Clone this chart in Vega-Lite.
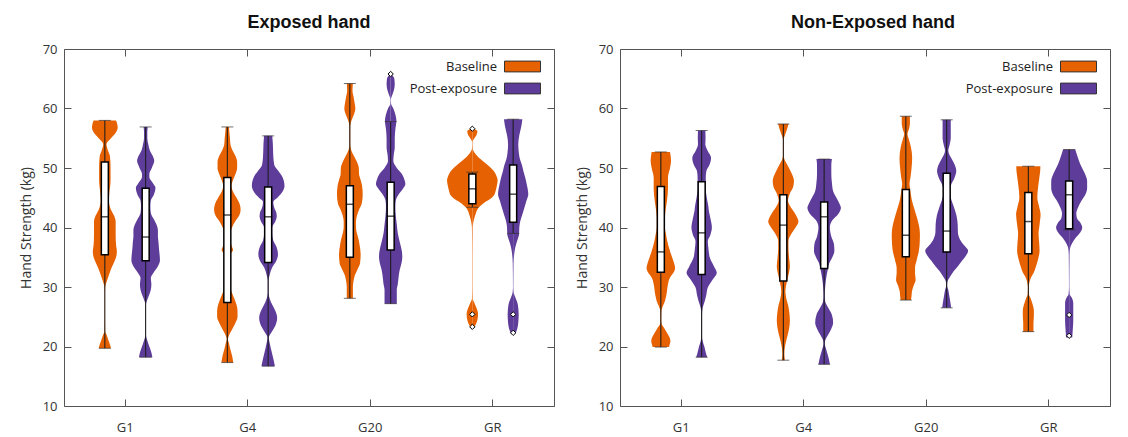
{
"$schema":"https://vega.github.io/schema/vega-lite/v6.json",
"padding":{"left":18,"top":13,"right":0,"bottom":0},
"spacing":19,
"config":{
 "view":{"stroke":"#555","strokeWidth":1},
 "font":"Open Sans",
 "axis":{"labelFont":"Open Sans","labelFontSize":13,"labelColor":"#333","tickColor":"#555","tickSize":-7,"tickWidth":1,"domain":false,"grid":false,"titleFont":"Open Sans","titleFontSize":14,"titleFontWeight":"normal","titleColor":"#333"},
 "title":{"font":"Liberation Sans","fontSize":18,"fontWeight":"bold","color":"#111","anchor":"middle","offset":11},
 "legend":{"orient":"top-right","offset":11,"padding":0,"labelFont":"Open Sans","labelFontSize":13,"labelColor":"#222","labelAlign":"right","labelOffset":-32,"symbolType":"M-3,-0.9H3V0.9H-3Z","symbolSize":144,"rowPadding":7,"symbolStrokeColor":"#333","symbolStrokeWidth":1}
},
"datasets":{
"viol":[
{"panel":"E","group":"G1","series":"Baseline","kg":58,"dens":0.55},{"panel":"E","group":"G1","series":"Baseline","kg":57.5,"dens":0.6},{"panel":"E","group":"G1","series":"Baseline","kg":56.8,"dens":0.63},{"panel":"E","group":"G1","series":"Baseline","kg":56,"dens":0.55},{"panel":"E","group":"G1","series":"Baseline","kg":55,"dens":0.3},{"panel":"E","group":"G1","series":"Baseline","kg":54,"dens":0.08},{"panel":"E","group":"G1","series":"Baseline","kg":53,"dens":0.15},{"panel":"E","group":"G1","series":"Baseline","kg":52,"dens":0.25},{"panel":"E","group":"G1","series":"Baseline","kg":50,"dens":0.28},{"panel":"E","group":"G1","series":"Baseline","kg":48,"dens":0.28},{"panel":"E","group":"G1","series":"Baseline","kg":46,"dens":0.23},{"panel":"E","group":"G1","series":"Baseline","kg":44.5,"dens":0.2},{"panel":"E","group":"G1","series":"Baseline","kg":43,"dens":0.3},{"panel":"E","group":"G1","series":"Baseline","kg":42,"dens":0.45},{"panel":"E","group":"G1","series":"Baseline","kg":41,"dens":0.53},{"panel":"E","group":"G1","series":"Baseline","kg":39,"dens":0.53},{"panel":"E","group":"G1","series":"Baseline","kg":37,"dens":0.55},{"panel":"E","group":"G1","series":"Baseline","kg":36,"dens":0.59},{"panel":"E","group":"G1","series":"Baseline","kg":35,"dens":0.55},{"panel":"E","group":"G1","series":"Baseline","kg":34,"dens":0.43},{"panel":"E","group":"G1","series":"Baseline","kg":33,"dens":0.3},{"panel":"E","group":"G1","series":"Baseline","kg":32,"dens":0.2},{"panel":"E","group":"G1","series":"Baseline","kg":31,"dens":0.1},{"panel":"E","group":"G1","series":"Baseline","kg":30,"dens":0.02},{"panel":"E","group":"G1","series":"Baseline","kg":29,"dens":0.01},{"panel":"E","group":"G1","series":"Baseline","kg":25,"dens":0.01},{"panel":"E","group":"G1","series":"Baseline","kg":22.5,"dens":0.02},{"panel":"E","group":"G1","series":"Baseline","kg":22,"dens":0.08},{"panel":"E","group":"G1","series":"Baseline","kg":21,"dens":0.18},{"panel":"E","group":"G1","series":"Baseline","kg":20,"dens":0.28},{"panel":"E","group":"G1","series":"Baseline","kg":19.7,"dens":0.3},
{"panel":"E","group":"G1","series":"Post-exposure","kg":56.9,"dens":0.1},{"panel":"E","group":"G1","series":"Post-exposure","kg":56,"dens":0.08},{"panel":"E","group":"G1","series":"Post-exposure","kg":55,"dens":0.08},{"panel":"E","group":"G1","series":"Post-exposure","kg":54,"dens":0.13},{"panel":"E","group":"G1","series":"Post-exposure","kg":53,"dens":0.2},{"panel":"E","group":"G1","series":"Post-exposure","kg":52,"dens":0.35},{"panel":"E","group":"G1","series":"Post-exposure","kg":51.2,"dens":0.42},{"panel":"E","group":"G1","series":"Post-exposure","kg":50,"dens":0.3},{"panel":"E","group":"G1","series":"Post-exposure","kg":49,"dens":0.18},{"panel":"E","group":"G1","series":"Post-exposure","kg":48.5,"dens":0.18},{"panel":"E","group":"G1","series":"Post-exposure","kg":47.5,"dens":0.35},{"panel":"E","group":"G1","series":"Post-exposure","kg":46.7,"dens":0.48},{"panel":"E","group":"G1","series":"Post-exposure","kg":45.5,"dens":0.4},{"panel":"E","group":"G1","series":"Post-exposure","kg":44.5,"dens":0.25},{"panel":"E","group":"G1","series":"Post-exposure","kg":43.5,"dens":0.23},{"panel":"E","group":"G1","series":"Post-exposure","kg":42.5,"dens":0.25},{"panel":"E","group":"G1","series":"Post-exposure","kg":41.5,"dens":0.38},{"panel":"E","group":"G1","series":"Post-exposure","kg":40.5,"dens":0.53},{"panel":"E","group":"G1","series":"Post-exposure","kg":39.5,"dens":0.6},{"panel":"E","group":"G1","series":"Post-exposure","kg":38.5,"dens":0.6},{"panel":"E","group":"G1","series":"Post-exposure","kg":37.5,"dens":0.63},{"panel":"E","group":"G1","series":"Post-exposure","kg":36.5,"dens":0.65},{"panel":"E","group":"G1","series":"Post-exposure","kg":35.5,"dens":0.68},{"panel":"E","group":"G1","series":"Post-exposure","kg":34.5,"dens":0.7},{"panel":"E","group":"G1","series":"Post-exposure","kg":33.5,"dens":0.6},{"panel":"E","group":"G1","series":"Post-exposure","kg":32.5,"dens":0.4},{"panel":"E","group":"G1","series":"Post-exposure","kg":31.5,"dens":0.25},{"panel":"E","group":"G1","series":"Post-exposure","kg":30.5,"dens":0.28},{"panel":"E","group":"G1","series":"Post-exposure","kg":29.5,"dens":0.25},{"panel":"E","group":"G1","series":"Post-exposure","kg":28.5,"dens":0.15},{"panel":"E","group":"G1","series":"Post-exposure","kg":27.5,"dens":0.04},{"panel":"E","group":"G1","series":"Post-exposure","kg":27,"dens":0.01},{"panel":"E","group":"G1","series":"Post-exposure","kg":22,"dens":0.01},{"panel":"E","group":"G1","series":"Post-exposure","kg":21,"dens":0.08},{"panel":"E","group":"G1","series":"Post-exposure","kg":20,"dens":0.18},{"panel":"E","group":"G1","series":"Post-exposure","kg":19,"dens":0.28},{"panel":"E","group":"G1","series":"Post-exposure","kg":18.2,"dens":0.33},
{"panel":"E","group":"G4","series":"Baseline","kg":56.9,"dens":0.08},{"panel":"E","group":"G4","series":"Baseline","kg":56,"dens":0.1},{"panel":"E","group":"G4","series":"Baseline","kg":55,"dens":0.13},{"panel":"E","group":"G4","series":"Baseline","kg":54,"dens":0.15},{"panel":"E","group":"G4","series":"Baseline","kg":53,"dens":0.25},{"panel":"E","group":"G4","series":"Baseline","kg":52,"dens":0.4},{"panel":"E","group":"G4","series":"Baseline","kg":51,"dens":0.48},{"panel":"E","group":"G4","series":"Baseline","kg":50,"dens":0.48},{"panel":"E","group":"G4","series":"Baseline","kg":49,"dens":0.4},{"panel":"E","group":"G4","series":"Baseline","kg":48,"dens":0.28},{"panel":"E","group":"G4","series":"Baseline","kg":47,"dens":0.2},{"panel":"E","group":"G4","series":"Baseline","kg":46,"dens":0.28},{"panel":"E","group":"G4","series":"Baseline","kg":45,"dens":0.45},{"panel":"E","group":"G4","series":"Baseline","kg":44,"dens":0.6},{"panel":"E","group":"G4","series":"Baseline","kg":43,"dens":0.65},{"panel":"E","group":"G4","series":"Baseline","kg":42,"dens":0.58},{"panel":"E","group":"G4","series":"Baseline","kg":41,"dens":0.38},{"panel":"E","group":"G4","series":"Baseline","kg":40,"dens":0.23},{"panel":"E","group":"G4","series":"Baseline","kg":39,"dens":0.15},{"panel":"E","group":"G4","series":"Baseline","kg":38,"dens":0.15},{"panel":"E","group":"G4","series":"Baseline","kg":37,"dens":0.2},{"panel":"E","group":"G4","series":"Baseline","kg":36.2,"dens":0.28},{"panel":"E","group":"G4","series":"Baseline","kg":35.5,"dens":0.15},{"panel":"E","group":"G4","series":"Baseline","kg":34.5,"dens":0.08},{"panel":"E","group":"G4","series":"Baseline","kg":33,"dens":0.06},{"panel":"E","group":"G4","series":"Baseline","kg":31,"dens":0.08},{"panel":"E","group":"G4","series":"Baseline","kg":30,"dens":0.13},{"panel":"E","group":"G4","series":"Baseline","kg":29,"dens":0.23},{"panel":"E","group":"G4","series":"Baseline","kg":28,"dens":0.35},{"panel":"E","group":"G4","series":"Baseline","kg":27,"dens":0.45},{"panel":"E","group":"G4","series":"Baseline","kg":26,"dens":0.5},{"panel":"E","group":"G4","series":"Baseline","kg":25,"dens":0.5},{"panel":"E","group":"G4","series":"Baseline","kg":24,"dens":0.4},{"panel":"E","group":"G4","series":"Baseline","kg":23,"dens":0.25},{"panel":"E","group":"G4","series":"Baseline","kg":22,"dens":0.1},{"panel":"E","group":"G4","series":"Baseline","kg":21.2,"dens":0.03},{"panel":"E","group":"G4","series":"Baseline","kg":20.5,"dens":0.08},{"panel":"E","group":"G4","series":"Baseline","kg":19.5,"dens":0.15},{"panel":"E","group":"G4","series":"Baseline","kg":18.5,"dens":0.23},{"panel":"E","group":"G4","series":"Baseline","kg":17.3,"dens":0.29},
{"panel":"E","group":"G4","series":"Post-exposure","kg":55.4,"dens":0.2},{"panel":"E","group":"G4","series":"Post-exposure","kg":54,"dens":0.23},{"panel":"E","group":"G4","series":"Post-exposure","kg":52,"dens":0.25},{"panel":"E","group":"G4","series":"Post-exposure","kg":50.5,"dens":0.3},{"panel":"E","group":"G4","series":"Post-exposure","kg":49.5,"dens":0.5},{"panel":"E","group":"G4","series":"Post-exposure","kg":48.5,"dens":0.7},{"panel":"E","group":"G4","series":"Post-exposure","kg":47,"dens":0.8},{"panel":"E","group":"G4","series":"Post-exposure","kg":46,"dens":0.7},{"panel":"E","group":"G4","series":"Post-exposure","kg":45,"dens":0.45},{"panel":"E","group":"G4","series":"Post-exposure","kg":44.3,"dens":0.25},{"panel":"E","group":"G4","series":"Post-exposure","kg":43.3,"dens":0.3},{"panel":"E","group":"G4","series":"Post-exposure","kg":42.5,"dens":0.4},{"panel":"E","group":"G4","series":"Post-exposure","kg":41.9,"dens":0.42},{"panel":"E","group":"G4","series":"Post-exposure","kg":41,"dens":0.35},{"panel":"E","group":"G4","series":"Post-exposure","kg":40,"dens":0.2},{"panel":"E","group":"G4","series":"Post-exposure","kg":39,"dens":0.2},{"panel":"E","group":"G4","series":"Post-exposure","kg":37.8,"dens":0.25},{"panel":"E","group":"G4","series":"Post-exposure","kg":36.8,"dens":0.4},{"panel":"E","group":"G4","series":"Post-exposure","kg":35.5,"dens":0.48},{"panel":"E","group":"G4","series":"Post-exposure","kg":34.4,"dens":0.4},{"panel":"E","group":"G4","series":"Post-exposure","kg":33.3,"dens":0.2},{"panel":"E","group":"G4","series":"Post-exposure","kg":32.1,"dens":0.08},{"panel":"E","group":"G4","series":"Post-exposure","kg":31,"dens":0.02},{"panel":"E","group":"G4","series":"Post-exposure","kg":29,"dens":0.02},{"panel":"E","group":"G4","series":"Post-exposure","kg":28,"dens":0.08},{"panel":"E","group":"G4","series":"Post-exposure","kg":27,"dens":0.2},{"panel":"E","group":"G4","series":"Post-exposure","kg":26,"dens":0.35},{"panel":"E","group":"G4","series":"Post-exposure","kg":24.8,"dens":0.44},{"panel":"E","group":"G4","series":"Post-exposure","kg":23.5,"dens":0.35},{"panel":"E","group":"G4","series":"Post-exposure","kg":22.5,"dens":0.18},{"panel":"E","group":"G4","series":"Post-exposure","kg":21.5,"dens":0.03},{"panel":"E","group":"G4","series":"Post-exposure","kg":20.5,"dens":0.08},{"panel":"E","group":"G4","series":"Post-exposure","kg":19,"dens":0.18},{"panel":"E","group":"G4","series":"Post-exposure","kg":18,"dens":0.25},{"panel":"E","group":"G4","series":"Post-exposure","kg":16.7,"dens":0.33},
{"panel":"E","group":"G20","series":"Baseline","kg":64.2,"dens":0.15},{"panel":"E","group":"G20","series":"Baseline","kg":63,"dens":0.13},{"panel":"E","group":"G20","series":"Baseline","kg":62,"dens":0.18},{"panel":"E","group":"G20","series":"Baseline","kg":61,"dens":0.23},{"panel":"E","group":"G20","series":"Baseline","kg":60,"dens":0.27},{"panel":"E","group":"G20","series":"Baseline","kg":59,"dens":0.2},{"panel":"E","group":"G20","series":"Baseline","kg":58,"dens":0.08},{"panel":"E","group":"G20","series":"Baseline","kg":57,"dens":0.02},{"panel":"E","group":"G20","series":"Baseline","kg":54,"dens":0.02},{"panel":"E","group":"G20","series":"Baseline","kg":53.2,"dens":0.05},{"panel":"E","group":"G20","series":"Baseline","kg":52,"dens":0.2},{"panel":"E","group":"G20","series":"Baseline","kg":51,"dens":0.35},{"panel":"E","group":"G20","series":"Baseline","kg":50,"dens":0.44},{"panel":"E","group":"G20","series":"Baseline","kg":49,"dens":0.45},{"panel":"E","group":"G20","series":"Baseline","kg":48,"dens":0.53},{"panel":"E","group":"G20","series":"Baseline","kg":47,"dens":0.6},{"panel":"E","group":"G20","series":"Baseline","kg":45.5,"dens":0.63},{"panel":"E","group":"G20","series":"Baseline","kg":44,"dens":0.58},{"panel":"E","group":"G20","series":"Baseline","kg":43,"dens":0.45},{"panel":"E","group":"G20","series":"Baseline","kg":42,"dens":0.35},{"panel":"E","group":"G20","series":"Baseline","kg":41,"dens":0.3},{"panel":"E","group":"G20","series":"Baseline","kg":40,"dens":0.3},{"panel":"E","group":"G20","series":"Baseline","kg":39,"dens":0.35},{"panel":"E","group":"G20","series":"Baseline","kg":38,"dens":0.43},{"panel":"E","group":"G20","series":"Baseline","kg":37,"dens":0.48},{"panel":"E","group":"G20","series":"Baseline","kg":35.5,"dens":0.53},{"panel":"E","group":"G20","series":"Baseline","kg":34,"dens":0.5},{"panel":"E","group":"G20","series":"Baseline","kg":33,"dens":0.38},{"panel":"E","group":"G20","series":"Baseline","kg":32,"dens":0.25},{"panel":"E","group":"G20","series":"Baseline","kg":31,"dens":0.18},{"panel":"E","group":"G20","series":"Baseline","kg":30,"dens":0.15},{"panel":"E","group":"G20","series":"Baseline","kg":29,"dens":0.15},{"panel":"E","group":"G20","series":"Baseline","kg":28.1,"dens":0.15},
{"panel":"E","group":"G20","series":"Post-exposure","kg":65.8,"dens":0.03},{"panel":"E","group":"G20","series":"Post-exposure","kg":65,"dens":0.18},{"panel":"E","group":"G20","series":"Post-exposure","kg":64,"dens":0.2},{"panel":"E","group":"G20","series":"Post-exposure","kg":63,"dens":0.15},{"panel":"E","group":"G20","series":"Post-exposure","kg":62,"dens":0.05},{"panel":"E","group":"G20","series":"Post-exposure","kg":61.5,"dens":0.01},{"panel":"E","group":"G20","series":"Post-exposure","kg":60.8,"dens":0.02},{"panel":"E","group":"G20","series":"Post-exposure","kg":60,"dens":0.13},{"panel":"E","group":"G20","series":"Post-exposure","kg":59,"dens":0.23},{"panel":"E","group":"G20","series":"Post-exposure","kg":58,"dens":0.28},{"panel":"E","group":"G20","series":"Post-exposure","kg":56.5,"dens":0.23},{"panel":"E","group":"G20","series":"Post-exposure","kg":55,"dens":0.2},{"panel":"E","group":"G20","series":"Post-exposure","kg":53.5,"dens":0.2},{"panel":"E","group":"G20","series":"Post-exposure","kg":52.2,"dens":0.15},{"panel":"E","group":"G20","series":"Post-exposure","kg":51.2,"dens":0.13},{"panel":"E","group":"G20","series":"Post-exposure","kg":50,"dens":0.3},{"panel":"E","group":"G20","series":"Post-exposure","kg":49,"dens":0.55},{"panel":"E","group":"G20","series":"Post-exposure","kg":48,"dens":0.68},{"panel":"E","group":"G20","series":"Post-exposure","kg":47.3,"dens":0.72},{"panel":"E","group":"G20","series":"Post-exposure","kg":46.5,"dens":0.6},{"panel":"E","group":"G20","series":"Post-exposure","kg":45.5,"dens":0.38},{"panel":"E","group":"G20","series":"Post-exposure","kg":44.5,"dens":0.25},{"panel":"E","group":"G20","series":"Post-exposure","kg":43.5,"dens":0.23},{"panel":"E","group":"G20","series":"Post-exposure","kg":42,"dens":0.25},{"panel":"E","group":"G20","series":"Post-exposure","kg":40.5,"dens":0.3},{"panel":"E","group":"G20","series":"Post-exposure","kg":39,"dens":0.35},{"panel":"E","group":"G20","series":"Post-exposure","kg":37.5,"dens":0.45},{"panel":"E","group":"G20","series":"Post-exposure","kg":36,"dens":0.55},{"panel":"E","group":"G20","series":"Post-exposure","kg":35,"dens":0.57},{"panel":"E","group":"G20","series":"Post-exposure","kg":34,"dens":0.53},{"panel":"E","group":"G20","series":"Post-exposure","kg":33,"dens":0.45},{"panel":"E","group":"G20","series":"Post-exposure","kg":32,"dens":0.4},{"panel":"E","group":"G20","series":"Post-exposure","kg":30.5,"dens":0.35},{"panel":"E","group":"G20","series":"Post-exposure","kg":29.5,"dens":0.3},{"panel":"E","group":"G20","series":"Post-exposure","kg":28.5,"dens":0.3},{"panel":"E","group":"G20","series":"Post-exposure","kg":27.2,"dens":0.3},
{"panel":"E","group":"GR","series":"Baseline","kg":56.6,"dens":0.05},{"panel":"E","group":"GR","series":"Baseline","kg":56.2,"dens":0.25},{"panel":"E","group":"GR","series":"Baseline","kg":55.5,"dens":0.2},{"panel":"E","group":"GR","series":"Baseline","kg":55,"dens":0.1},{"panel":"E","group":"GR","series":"Baseline","kg":54.3,"dens":0.01},{"panel":"E","group":"GR","series":"Baseline","kg":53.2,"dens":0.02},{"panel":"E","group":"GR","series":"Baseline","kg":52.5,"dens":0.13},{"panel":"E","group":"GR","series":"Baseline","kg":51.5,"dens":0.4},{"panel":"E","group":"GR","series":"Baseline","kg":50.5,"dens":0.75},{"panel":"E","group":"GR","series":"Baseline","kg":49.5,"dens":1.05},{"panel":"E","group":"GR","series":"Baseline","kg":48.5,"dens":1.2},{"panel":"E","group":"GR","series":"Baseline","kg":48,"dens":1.24},{"panel":"E","group":"GR","series":"Baseline","kg":47,"dens":1.2},{"panel":"E","group":"GR","series":"Baseline","kg":46,"dens":1.13},{"panel":"E","group":"GR","series":"Baseline","kg":45.5,"dens":1.08},{"panel":"E","group":"GR","series":"Baseline","kg":45,"dens":0.95},{"panel":"E","group":"GR","series":"Baseline","kg":44.2,"dens":0.6},{"panel":"E","group":"GR","series":"Baseline","kg":43.3,"dens":0.3},{"panel":"E","group":"GR","series":"Baseline","kg":42.5,"dens":0.18},{"panel":"E","group":"GR","series":"Baseline","kg":41.6,"dens":0.1},{"panel":"E","group":"GR","series":"Baseline","kg":40.9,"dens":0.05},{"panel":"E","group":"GR","series":"Baseline","kg":40,"dens":0.02},{"panel":"E","group":"GR","series":"Baseline","kg":35,"dens":0.01},{"panel":"E","group":"GR","series":"Baseline","kg":30,"dens":0.01},{"panel":"E","group":"GR","series":"Baseline","kg":28,"dens":0.02},{"panel":"E","group":"GR","series":"Baseline","kg":27.5,"dens":0.08},{"panel":"E","group":"GR","series":"Baseline","kg":26.5,"dens":0.2},{"panel":"E","group":"GR","series":"Baseline","kg":25.5,"dens":0.28},{"panel":"E","group":"GR","series":"Baseline","kg":24.5,"dens":0.25},{"panel":"E","group":"GR","series":"Baseline","kg":23.8,"dens":0.18},{"panel":"E","group":"GR","series":"Baseline","kg":23.2,"dens":0.08},
{"panel":"E","group":"GR","series":"Post-exposure","kg":58.2,"dens":0.45},{"panel":"E","group":"GR","series":"Post-exposure","kg":57,"dens":0.4},{"panel":"E","group":"GR","series":"Post-exposure","kg":55.5,"dens":0.3},{"panel":"E","group":"GR","series":"Post-exposure","kg":54,"dens":0.25},{"panel":"E","group":"GR","series":"Post-exposure","kg":52.5,"dens":0.28},{"panel":"E","group":"GR","series":"Post-exposure","kg":51.5,"dens":0.33},{"panel":"E","group":"GR","series":"Post-exposure","kg":50.5,"dens":0.43},{"panel":"E","group":"GR","series":"Post-exposure","kg":49.5,"dens":0.5},{"panel":"E","group":"GR","series":"Post-exposure","kg":48.4,"dens":0.59},{"panel":"E","group":"GR","series":"Post-exposure","kg":47,"dens":0.68},{"panel":"E","group":"GR","series":"Post-exposure","kg":45.6,"dens":0.74},{"panel":"E","group":"GR","series":"Post-exposure","kg":44.5,"dens":0.65},{"panel":"E","group":"GR","series":"Post-exposure","kg":43.3,"dens":0.55},{"panel":"E","group":"GR","series":"Post-exposure","kg":42.2,"dens":0.45},{"panel":"E","group":"GR","series":"Post-exposure","kg":41.1,"dens":0.35},{"panel":"E","group":"GR","series":"Post-exposure","kg":40,"dens":0.3},{"panel":"E","group":"GR","series":"Post-exposure","kg":38.9,"dens":0.29},{"panel":"E","group":"GR","series":"Post-exposure","kg":37.8,"dens":0.2},{"panel":"E","group":"GR","series":"Post-exposure","kg":36.6,"dens":0.1},{"panel":"E","group":"GR","series":"Post-exposure","kg":35.5,"dens":0.05},{"panel":"E","group":"GR","series":"Post-exposure","kg":34,"dens":0.02},{"panel":"E","group":"GR","series":"Post-exposure","kg":30,"dens":0.01},{"panel":"E","group":"GR","series":"Post-exposure","kg":29,"dens":0.03},{"panel":"E","group":"GR","series":"Post-exposure","kg":28.3,"dens":0.1},{"panel":"E","group":"GR","series":"Post-exposure","kg":27,"dens":0.23},{"panel":"E","group":"GR","series":"Post-exposure","kg":25.3,"dens":0.27},{"panel":"E","group":"GR","series":"Post-exposure","kg":24,"dens":0.25},{"panel":"E","group":"GR","series":"Post-exposure","kg":23,"dens":0.2},{"panel":"E","group":"GR","series":"Post-exposure","kg":22.1,"dens":0.1},
{"panel":"N","group":"G1","series":"Baseline","kg":52.7,"dens":0.45},{"panel":"N","group":"G1","series":"Baseline","kg":51.2,"dens":0.5},{"panel":"N","group":"G1","series":"Baseline","kg":50,"dens":0.45},{"panel":"N","group":"G1","series":"Baseline","kg":48.4,"dens":0.35},{"panel":"N","group":"G1","series":"Baseline","kg":46.5,"dens":0.35},{"panel":"N","group":"G1","series":"Baseline","kg":44.5,"dens":0.3},{"panel":"N","group":"G1","series":"Baseline","kg":43.3,"dens":0.25},{"panel":"N","group":"G1","series":"Baseline","kg":41.6,"dens":0.2},{"panel":"N","group":"G1","series":"Baseline","kg":40,"dens":0.2},{"panel":"N","group":"G1","series":"Baseline","kg":38.9,"dens":0.25},{"panel":"N","group":"G1","series":"Baseline","kg":37.5,"dens":0.33},{"panel":"N","group":"G1","series":"Baseline","kg":36.6,"dens":0.4},{"panel":"N","group":"G1","series":"Baseline","kg":35,"dens":0.55},{"panel":"N","group":"G1","series":"Baseline","kg":34,"dens":0.65},{"panel":"N","group":"G1","series":"Baseline","kg":33.2,"dens":0.7},{"panel":"N","group":"G1","series":"Baseline","kg":32.3,"dens":0.6},{"panel":"N","group":"G1","series":"Baseline","kg":31.6,"dens":0.45},{"panel":"N","group":"G1","series":"Baseline","kg":30.5,"dens":0.35},{"panel":"N","group":"G1","series":"Baseline","kg":29.3,"dens":0.3},{"panel":"N","group":"G1","series":"Baseline","kg":28.3,"dens":0.25},{"panel":"N","group":"G1","series":"Baseline","kg":27.6,"dens":0.2},{"panel":"N","group":"G1","series":"Baseline","kg":26.8,"dens":0.1},{"panel":"N","group":"G1","series":"Baseline","kg":26,"dens":0.03},{"panel":"N","group":"G1","series":"Baseline","kg":24.5,"dens":0.02},{"panel":"N","group":"G1","series":"Baseline","kg":23.8,"dens":0.04},{"panel":"N","group":"G1","series":"Baseline","kg":23.2,"dens":0.15},{"panel":"N","group":"G1","series":"Baseline","kg":22.3,"dens":0.3},{"panel":"N","group":"G1","series":"Baseline","kg":21.5,"dens":0.43},{"panel":"N","group":"G1","series":"Baseline","kg":20.9,"dens":0.47},{"panel":"N","group":"G1","series":"Baseline","kg":20.3,"dens":0.43},{"panel":"N","group":"G1","series":"Baseline","kg":19.9,"dens":0.4},
{"panel":"N","group":"G1","series":"Post-exposure","kg":56.3,"dens":0.18},{"panel":"N","group":"G1","series":"Post-exposure","kg":55,"dens":0.19},{"panel":"N","group":"G1","series":"Post-exposure","kg":54,"dens":0.18},{"panel":"N","group":"G1","series":"Post-exposure","kg":53,"dens":0.28},{"panel":"N","group":"G1","series":"Post-exposure","kg":51.7,"dens":0.46},{"panel":"N","group":"G1","series":"Post-exposure","kg":50.5,"dens":0.38},{"panel":"N","group":"G1","series":"Post-exposure","kg":49.5,"dens":0.23},{"panel":"N","group":"G1","series":"Post-exposure","kg":48.4,"dens":0.2},{"panel":"N","group":"G1","series":"Post-exposure","kg":46.5,"dens":0.2},{"panel":"N","group":"G1","series":"Post-exposure","kg":45,"dens":0.25},{"panel":"N","group":"G1","series":"Post-exposure","kg":43.5,"dens":0.33},{"panel":"N","group":"G1","series":"Post-exposure","kg":42.8,"dens":0.35},{"panel":"N","group":"G1","series":"Post-exposure","kg":41.5,"dens":0.43},{"panel":"N","group":"G1","series":"Post-exposure","kg":40,"dens":0.5},{"panel":"N","group":"G1","series":"Post-exposure","kg":38.8,"dens":0.43},{"panel":"N","group":"G1","series":"Post-exposure","kg":37.7,"dens":0.3},{"panel":"N","group":"G1","series":"Post-exposure","kg":36.5,"dens":0.33},{"panel":"N","group":"G1","series":"Post-exposure","kg":34.9,"dens":0.4},{"panel":"N","group":"G1","series":"Post-exposure","kg":33.5,"dens":0.6},{"panel":"N","group":"G1","series":"Post-exposure","kg":32.4,"dens":0.74},{"panel":"N","group":"G1","series":"Post-exposure","kg":31.3,"dens":0.55},{"panel":"N","group":"G1","series":"Post-exposure","kg":29.9,"dens":0.3},{"panel":"N","group":"G1","series":"Post-exposure","kg":28.7,"dens":0.23},{"panel":"N","group":"G1","series":"Post-exposure","kg":27.6,"dens":0.15},{"panel":"N","group":"G1","series":"Post-exposure","kg":26.5,"dens":0.05},{"panel":"N","group":"G1","series":"Post-exposure","kg":25.4,"dens":0.02},{"panel":"N","group":"G1","series":"Post-exposure","kg":21.5,"dens":0.02},{"panel":"N","group":"G1","series":"Post-exposure","kg":20.9,"dens":0.05},{"panel":"N","group":"G1","series":"Post-exposure","kg":20,"dens":0.13},{"panel":"N","group":"G1","series":"Post-exposure","kg":19,"dens":0.2},{"panel":"N","group":"G1","series":"Post-exposure","kg":18.2,"dens":0.27},
{"panel":"N","group":"G4","series":"Baseline","kg":57.4,"dens":0.25},{"panel":"N","group":"G4","series":"Baseline","kg":56.5,"dens":0.18},{"panel":"N","group":"G4","series":"Baseline","kg":55.5,"dens":0.08},{"panel":"N","group":"G4","series":"Baseline","kg":54.8,"dens":0.02},{"panel":"N","group":"G4","series":"Baseline","kg":52,"dens":0.02},{"panel":"N","group":"G4","series":"Baseline","kg":51.5,"dens":0.05},{"panel":"N","group":"G4","series":"Baseline","kg":50.5,"dens":0.2},{"panel":"N","group":"G4","series":"Baseline","kg":49.5,"dens":0.35},{"panel":"N","group":"G4","series":"Baseline","kg":48.5,"dens":0.48},{"panel":"N","group":"G4","series":"Baseline","kg":47.8,"dens":0.52},{"panel":"N","group":"G4","series":"Baseline","kg":46.8,"dens":0.48},{"panel":"N","group":"G4","series":"Baseline","kg":45.8,"dens":0.33},{"panel":"N","group":"G4","series":"Baseline","kg":44.5,"dens":0.23},{"panel":"N","group":"G4","series":"Baseline","kg":43.5,"dens":0.35},{"panel":"N","group":"G4","series":"Baseline","kg":42.5,"dens":0.55},{"panel":"N","group":"G4","series":"Baseline","kg":41.5,"dens":0.7},{"panel":"N","group":"G4","series":"Baseline","kg":41,"dens":0.74},{"panel":"N","group":"G4","series":"Baseline","kg":40,"dens":0.6},{"panel":"N","group":"G4","series":"Baseline","kg":39,"dens":0.4},{"panel":"N","group":"G4","series":"Baseline","kg":37.7,"dens":0.25},{"panel":"N","group":"G4","series":"Baseline","kg":36.5,"dens":0.25},{"panel":"N","group":"G4","series":"Baseline","kg":35,"dens":0.28},{"panel":"N","group":"G4","series":"Baseline","kg":33.5,"dens":0.32},{"panel":"N","group":"G4","series":"Baseline","kg":32,"dens":0.25},{"panel":"N","group":"G4","series":"Baseline","kg":30.5,"dens":0.15},{"panel":"N","group":"G4","series":"Baseline","kg":29.3,"dens":0.1},{"panel":"N","group":"G4","series":"Baseline","kg":28,"dens":0.15},{"panel":"N","group":"G4","series":"Baseline","kg":27,"dens":0.23},{"panel":"N","group":"G4","series":"Baseline","kg":25.5,"dens":0.3},{"panel":"N","group":"G4","series":"Baseline","kg":24.3,"dens":0.32},{"panel":"N","group":"G4","series":"Baseline","kg":23,"dens":0.28},{"panel":"N","group":"G4","series":"Baseline","kg":21.5,"dens":0.18},{"panel":"N","group":"G4","series":"Baseline","kg":20,"dens":0.08},{"panel":"N","group":"G4","series":"Baseline","kg":18.7,"dens":0.05},{"panel":"N","group":"G4","series":"Baseline","kg":17.7,"dens":0.08},
{"panel":"N","group":"G4","series":"Post-exposure","kg":51.5,"dens":0.38},{"panel":"N","group":"G4","series":"Post-exposure","kg":50.5,"dens":0.35},{"panel":"N","group":"G4","series":"Post-exposure","kg":49,"dens":0.35},{"panel":"N","group":"G4","series":"Post-exposure","kg":47.5,"dens":0.38},{"panel":"N","group":"G4","series":"Post-exposure","kg":46,"dens":0.45},{"panel":"N","group":"G4","series":"Post-exposure","kg":45,"dens":0.6},{"panel":"N","group":"G4","series":"Post-exposure","kg":44,"dens":0.75},{"panel":"N","group":"G4","series":"Post-exposure","kg":43.3,"dens":0.82},{"panel":"N","group":"G4","series":"Post-exposure","kg":42.3,"dens":0.7},{"panel":"N","group":"G4","series":"Post-exposure","kg":41.2,"dens":0.4},{"panel":"N","group":"G4","series":"Post-exposure","kg":40,"dens":0.28},{"panel":"N","group":"G4","series":"Post-exposure","kg":38.5,"dens":0.35},{"panel":"N","group":"G4","series":"Post-exposure","kg":37.2,"dens":0.48},{"panel":"N","group":"G4","series":"Post-exposure","kg":36.1,"dens":0.5},{"panel":"N","group":"G4","series":"Post-exposure","kg":35,"dens":0.4},{"panel":"N","group":"G4","series":"Post-exposure","kg":34,"dens":0.25},{"panel":"N","group":"G4","series":"Post-exposure","kg":33,"dens":0.18},{"panel":"N","group":"G4","series":"Post-exposure","kg":31.5,"dens":0.1},{"panel":"N","group":"G4","series":"Post-exposure","kg":30,"dens":0.05},{"panel":"N","group":"G4","series":"Post-exposure","kg":28.5,"dens":0.03},{"panel":"N","group":"G4","series":"Post-exposure","kg":27.6,"dens":0.05},{"panel":"N","group":"G4","series":"Post-exposure","kg":26.5,"dens":0.2},{"panel":"N","group":"G4","series":"Post-exposure","kg":25.3,"dens":0.38},{"panel":"N","group":"G4","series":"Post-exposure","kg":24,"dens":0.44},{"panel":"N","group":"G4","series":"Post-exposure","kg":23,"dens":0.35},{"panel":"N","group":"G4","series":"Post-exposure","kg":22,"dens":0.2},{"panel":"N","group":"G4","series":"Post-exposure","kg":21,"dens":0.05},{"panel":"N","group":"G4","series":"Post-exposure","kg":20.5,"dens":0.03},{"panel":"N","group":"G4","series":"Post-exposure","kg":19.5,"dens":0.1},{"panel":"N","group":"G4","series":"Post-exposure","kg":18.3,"dens":0.2},{"panel":"N","group":"G4","series":"Post-exposure","kg":17,"dens":0.28},
{"panel":"N","group":"G20","series":"Baseline","kg":58.7,"dens":0.2},{"panel":"N","group":"G20","series":"Baseline","kg":57.5,"dens":0.2},{"panel":"N","group":"G20","series":"Baseline","kg":56.5,"dens":0.15},{"panel":"N","group":"G20","series":"Baseline","kg":55.7,"dens":0.08},{"panel":"N","group":"G20","series":"Baseline","kg":54.8,"dens":0.15},{"panel":"N","group":"G20","series":"Baseline","kg":53.5,"dens":0.25},{"panel":"N","group":"G20","series":"Baseline","kg":51.7,"dens":0.31},{"panel":"N","group":"G20","series":"Baseline","kg":50,"dens":0.28},{"panel":"N","group":"G20","series":"Baseline","kg":48.5,"dens":0.23},{"panel":"N","group":"G20","series":"Baseline","kg":47.3,"dens":0.18},{"panel":"N","group":"G20","series":"Baseline","kg":46,"dens":0.23},{"panel":"N","group":"G20","series":"Baseline","kg":44.5,"dens":0.3},{"panel":"N","group":"G20","series":"Baseline","kg":43,"dens":0.43},{"panel":"N","group":"G20","series":"Baseline","kg":41.6,"dens":0.55},{"panel":"N","group":"G20","series":"Baseline","kg":40.2,"dens":0.65},{"panel":"N","group":"G20","series":"Baseline","kg":38.9,"dens":0.69},{"panel":"N","group":"G20","series":"Baseline","kg":37.5,"dens":0.68},{"panel":"N","group":"G20","series":"Baseline","kg":36.1,"dens":0.64},{"panel":"N","group":"G20","series":"Baseline","kg":34.5,"dens":0.53},{"panel":"N","group":"G20","series":"Baseline","kg":33.2,"dens":0.45},{"panel":"N","group":"G20","series":"Baseline","kg":32.3,"dens":0.45},{"panel":"N","group":"G20","series":"Baseline","kg":31.2,"dens":0.48},{"panel":"N","group":"G20","series":"Baseline","kg":30.2,"dens":0.38},{"panel":"N","group":"G20","series":"Baseline","kg":29.3,"dens":0.3},{"panel":"N","group":"G20","series":"Baseline","kg":28.5,"dens":0.28},{"panel":"N","group":"G20","series":"Baseline","kg":27.8,"dens":0.25},
{"panel":"N","group":"G20","series":"Post-exposure","kg":58.1,"dens":0.2},{"panel":"N","group":"G20","series":"Post-exposure","kg":56.5,"dens":0.2},{"panel":"N","group":"G20","series":"Post-exposure","kg":55,"dens":0.2},{"panel":"N","group":"G20","series":"Post-exposure","kg":54,"dens":0.15},{"panel":"N","group":"G20","series":"Post-exposure","kg":52.9,"dens":0.08},{"panel":"N","group":"G20","series":"Post-exposure","kg":51.5,"dens":0.25},{"panel":"N","group":"G20","series":"Post-exposure","kg":50.5,"dens":0.4},{"panel":"N","group":"G20","series":"Post-exposure","kg":49.5,"dens":0.47},{"panel":"N","group":"G20","series":"Post-exposure","kg":48.3,"dens":0.38},{"panel":"N","group":"G20","series":"Post-exposure","kg":47,"dens":0.2},{"panel":"N","group":"G20","series":"Post-exposure","kg":46.1,"dens":0.15},{"panel":"N","group":"G20","series":"Post-exposure","kg":45,"dens":0.2},{"panel":"N","group":"G20","series":"Post-exposure","kg":43.5,"dens":0.35},{"panel":"N","group":"G20","series":"Post-exposure","kg":42,"dens":0.48},{"panel":"N","group":"G20","series":"Post-exposure","kg":40.5,"dens":0.54},{"panel":"N","group":"G20","series":"Post-exposure","kg":39.2,"dens":0.55},{"panel":"N","group":"G20","series":"Post-exposure","kg":38,"dens":0.65},{"panel":"N","group":"G20","series":"Post-exposure","kg":37,"dens":0.85},{"panel":"N","group":"G20","series":"Post-exposure","kg":36.1,"dens":1.05},{"panel":"N","group":"G20","series":"Post-exposure","kg":35.3,"dens":0.95},{"panel":"N","group":"G20","series":"Post-exposure","kg":34.4,"dens":0.75},{"panel":"N","group":"G20","series":"Post-exposure","kg":33.5,"dens":0.55},{"panel":"N","group":"G20","series":"Post-exposure","kg":32.7,"dens":0.35},{"panel":"N","group":"G20","series":"Post-exposure","kg":31.8,"dens":0.18},{"panel":"N","group":"G20","series":"Post-exposure","kg":31,"dens":0.05},{"panel":"N","group":"G20","series":"Post-exposure","kg":30.3,"dens":0.02},{"panel":"N","group":"G20","series":"Post-exposure","kg":29.5,"dens":0.08},{"panel":"N","group":"G20","series":"Post-exposure","kg":28.5,"dens":0.13},{"panel":"N","group":"G20","series":"Post-exposure","kg":27.5,"dens":0.18},{"panel":"N","group":"G20","series":"Post-exposure","kg":26.5,"dens":0.22},
{"panel":"N","group":"GR","series":"Baseline","kg":50.3,"dens":0.59},{"panel":"N","group":"GR","series":"Baseline","kg":49.5,"dens":0.58},{"panel":"N","group":"GR","series":"Baseline","kg":48.4,"dens":0.54},{"panel":"N","group":"GR","series":"Baseline","kg":46.8,"dens":0.48},{"panel":"N","group":"GR","series":"Baseline","kg":45,"dens":0.44},{"panel":"N","group":"GR","series":"Baseline","kg":43.5,"dens":0.53},{"panel":"N","group":"GR","series":"Baseline","kg":42.2,"dens":0.6},{"panel":"N","group":"GR","series":"Baseline","kg":40.5,"dens":0.55},{"panel":"N","group":"GR","series":"Baseline","kg":38.9,"dens":0.5},{"panel":"N","group":"GR","series":"Baseline","kg":37.5,"dens":0.53},{"panel":"N","group":"GR","series":"Baseline","kg":36.1,"dens":0.55},{"panel":"N","group":"GR","series":"Baseline","kg":34.7,"dens":0.48},{"panel":"N","group":"GR","series":"Baseline","kg":33.2,"dens":0.35},{"panel":"N","group":"GR","series":"Baseline","kg":32.3,"dens":0.25},{"panel":"N","group":"GR","series":"Baseline","kg":31.6,"dens":0.13},{"panel":"N","group":"GR","series":"Baseline","kg":30.7,"dens":0.05},{"panel":"N","group":"GR","series":"Baseline","kg":29.9,"dens":0.02},{"panel":"N","group":"GR","series":"Baseline","kg":28.8,"dens":0.03},{"panel":"N","group":"GR","series":"Baseline","kg":28.2,"dens":0.1},{"panel":"N","group":"GR","series":"Baseline","kg":27.2,"dens":0.2},{"panel":"N","group":"GR","series":"Baseline","kg":26,"dens":0.27},{"panel":"N","group":"GR","series":"Baseline","kg":25,"dens":0.27},{"panel":"N","group":"GR","series":"Baseline","kg":24,"dens":0.25},{"panel":"N","group":"GR","series":"Baseline","kg":23.2,"dens":0.25},{"panel":"N","group":"GR","series":"Baseline","kg":22.5,"dens":0.25},
{"panel":"N","group":"GR","series":"Post-exposure","kg":53.1,"dens":0.3},{"panel":"N","group":"GR","series":"Post-exposure","kg":52,"dens":0.4},{"panel":"N","group":"GR","series":"Post-exposure","kg":50.6,"dens":0.55},{"panel":"N","group":"GR","series":"Post-exposure","kg":49.2,"dens":0.75},{"panel":"N","group":"GR","series":"Post-exposure","kg":47.8,"dens":0.88},{"panel":"N","group":"GR","series":"Post-exposure","kg":46.7,"dens":0.88},{"panel":"N","group":"GR","series":"Post-exposure","kg":45.6,"dens":0.8},{"panel":"N","group":"GR","series":"Post-exposure","kg":44.5,"dens":0.6},{"panel":"N","group":"GR","series":"Post-exposure","kg":43.3,"dens":0.43},{"panel":"N","group":"GR","series":"Post-exposure","kg":42.4,"dens":0.35},{"panel":"N","group":"GR","series":"Post-exposure","kg":41.6,"dens":0.38},{"panel":"N","group":"GR","series":"Post-exposure","kg":40.8,"dens":0.55},{"panel":"N","group":"GR","series":"Post-exposure","kg":40,"dens":0.64},{"panel":"N","group":"GR","series":"Post-exposure","kg":39.2,"dens":0.55},{"panel":"N","group":"GR","series":"Post-exposure","kg":38.3,"dens":0.33},{"panel":"N","group":"GR","series":"Post-exposure","kg":37.4,"dens":0.15},{"panel":"N","group":"GR","series":"Post-exposure","kg":36.6,"dens":0.05},{"panel":"N","group":"GR","series":"Post-exposure","kg":35.5,"dens":0.02},{"panel":"N","group":"GR","series":"Post-exposure","kg":30,"dens":0.01},{"panel":"N","group":"GR","series":"Post-exposure","kg":28.8,"dens":0.03},{"panel":"N","group":"GR","series":"Post-exposure","kg":28.2,"dens":0.13},{"panel":"N","group":"GR","series":"Post-exposure","kg":27.3,"dens":0.2},{"panel":"N","group":"GR","series":"Post-exposure","kg":26.5,"dens":0.2},{"panel":"N","group":"GR","series":"Post-exposure","kg":25.3,"dens":0.2},{"panel":"N","group":"GR","series":"Post-exposure","kg":24.3,"dens":0.2},{"panel":"N","group":"GR","series":"Post-exposure","kg":23,"dens":0.18},{"panel":"N","group":"GR","series":"Post-exposure","kg":21.5,"dens":0.15}
],
"box":[
{"panel":"E","group":"G1","series":"Baseline","lo":19.7,"q1":35.4,"med":41.8,"q3":51.0,"hi":58.0},
{"panel":"E","group":"G1","series":"Post-exposure","lo":18.2,"q1":34.4,"med":38.4,"q3":46.6,"hi":56.9},
{"panel":"E","group":"G4","series":"Baseline","lo":17.3,"q1":27.4,"med":42.1,"q3":48.4,"hi":56.9},
{"panel":"E","group":"G4","series":"Post-exposure","lo":16.7,"q1":34.1,"med":41.8,"q3":46.8,"hi":55.4},
{"panel":"E","group":"G20","series":"Baseline","lo":28.1,"q1":35.0,"med":43.9,"q3":47.0,"hi":64.2},
{"panel":"E","group":"G20","series":"Post-exposure","lo":27.2,"q1":36.2,"med":41.9,"q3":47.6,"hi":57.8},
{"panel":"E","group":"GR","series":"Baseline","lo":43.4,"q1":44.0,"med":46.5,"q3":49.0,"hi":49.3},
{"panel":"E","group":"GR","series":"Post-exposure","lo":39.0,"q1":40.9,"med":45.6,"q3":50.5,"hi":58.2},
{"panel":"N","group":"G1","series":"Baseline","lo":19.9,"q1":32.5,"med":35.9,"q3":46.9,"hi":52.7},
{"panel":"N","group":"G1","series":"Post-exposure","lo":18.2,"q1":32.1,"med":39.1,"q3":47.7,"hi":56.3},
{"panel":"N","group":"G4","series":"Baseline","lo":17.7,"q1":31.0,"med":40.4,"q3":45.5,"hi":57.4},
{"panel":"N","group":"G4","series":"Post-exposure","lo":17.0,"q1":33.1,"med":41.8,"q3":44.3,"hi":51.5},
{"panel":"N","group":"G20","series":"Baseline","lo":27.8,"q1":35.1,"med":38.7,"q3":46.4,"hi":58.7},
{"panel":"N","group":"G20","series":"Post-exposure","lo":26.5,"q1":35.9,"med":39.4,"q3":49.1,"hi":58.1},
{"panel":"N","group":"GR","series":"Baseline","lo":22.5,"q1":35.6,"med":41.0,"q3":45.9,"hi":50.3},
{"panel":"N","group":"GR","series":"Post-exposure","lo":39.6,"q1":39.8,"med":45.5,"q3":47.8,"hi":53.1}
],
"out":[
{"panel":"E","group":"G20","series":"Post-exposure","kg":65.8},
{"panel":"E","group":"GR","series":"Baseline","kg":56.6},
{"panel":"E","group":"GR","series":"Baseline","kg":25.4},
{"panel":"E","group":"GR","series":"Baseline","kg":23.3},
{"panel":"E","group":"GR","series":"Post-exposure","kg":25.4},
{"panel":"E","group":"GR","series":"Post-exposure","kg":22.3},
{"panel":"N","group":"GR","series":"Post-exposure","kg":25.3},
{"panel":"N","group":"GR","series":"Post-exposure","kg":21.8}
]
},
"resolve":{"scale":{"color":"independent"},"legend":{"color":"independent"}},
"hconcat":[
{
"width":490,"height":357,
"title":{"text":"Exposed hand"},
"data":{"name":"viol"},
"transform":[{"filter":"datum.panel=='E'"}],
"resolve":{"scale":{"x":"independent"}},
"layer":[
{"transform":[{"filter":"datum.group=='G1'&&datum.series=='Baseline'"}],"mark":{"type":"area","orient":"horizontal","interpolate":"monotone"},"encoding":{"y":{"field":"kg","type":"quantitative","scale":{"domain":[10,70],"nice":false},"axis":{"orient":"left","values":[10,20,30,40,50,60,70],"title":"Hand Strength (kg)","labelPadding":14,"titlePadding":9}},"x":{"field":"dens","type":"quantitative","stack":null,"axis":null,"scale":{"domain":[-2,22],"nice":false,"zero":false}},"color":{"field":"series","type":"nominal","scale":{"domain":["Baseline","Post-exposure"],"range":["#e66101","#5e3c99"]},"legend":{"title":null}}}},
{"transform":[{"filter":"datum.group=='G1'&&datum.series=='Baseline'"}],"mark":{"type":"area","orient":"horizontal","interpolate":"monotone"},"encoding":{"y":{"field":"kg","type":"quantitative","scale":{"domain":[10,70],"nice":false},"axis":{"orient":"right","values":[10,20,30,40,50,60,70],"labels":false,"title":null}},"x":{"field":"dens","type":"quantitative","stack":null,"axis":null,"scale":{"domain":[-22,2],"reverse":true,"nice":false,"zero":false}},"color":{"field":"series","type":"nominal","scale":{"domain":["Baseline","Post-exposure"],"range":["#e66101","#5e3c99"]},"legend":{"title":null}}}},
{"transform":[{"filter":"datum.group=='G1'&&datum.series=='Post-exposure'"}],"mark":{"type":"area","orient":"horizontal","interpolate":"monotone"},"encoding":{"y":{"field":"kg","type":"quantitative","scale":{"domain":[10,70],"nice":false},"axis":null},"x":{"field":"dens","type":"quantitative","stack":null,"axis":null,"scale":{"domain":[-4,20],"nice":false,"zero":false}},"color":{"field":"series","type":"nominal","scale":{"domain":["Baseline","Post-exposure"],"range":["#e66101","#5e3c99"]},"legend":{"title":null}}}},
{"transform":[{"filter":"datum.group=='G1'&&datum.series=='Post-exposure'"}],"mark":{"type":"area","orient":"horizontal","interpolate":"monotone"},"encoding":{"y":{"field":"kg","type":"quantitative","scale":{"domain":[10,70],"nice":false},"axis":null},"x":{"field":"dens","type":"quantitative","stack":null,"axis":null,"scale":{"domain":[-20,4],"reverse":true,"nice":false,"zero":false}},"color":{"field":"series","type":"nominal","scale":{"domain":["Baseline","Post-exposure"],"range":["#e66101","#5e3c99"]},"legend":{"title":null}}}},
{"transform":[{"filter":"datum.group=='G4'&&datum.series=='Baseline'"}],"mark":{"type":"area","orient":"horizontal","interpolate":"monotone"},"encoding":{"y":{"field":"kg","type":"quantitative","scale":{"domain":[10,70],"nice":false},"axis":null},"x":{"field":"dens","type":"quantitative","stack":null,"axis":null,"scale":{"domain":[-8,16],"nice":false,"zero":false}},"color":{"field":"series","type":"nominal","scale":{"domain":["Baseline","Post-exposure"],"range":["#e66101","#5e3c99"]},"legend":{"title":null}}}},
{"transform":[{"filter":"datum.group=='G4'&&datum.series=='Baseline'"}],"mark":{"type":"area","orient":"horizontal","interpolate":"monotone"},"encoding":{"y":{"field":"kg","type":"quantitative","scale":{"domain":[10,70],"nice":false},"axis":null},"x":{"field":"dens","type":"quantitative","stack":null,"axis":null,"scale":{"domain":[-16,8],"reverse":true,"nice":false,"zero":false}},"color":{"field":"series","type":"nominal","scale":{"domain":["Baseline","Post-exposure"],"range":["#e66101","#5e3c99"]},"legend":{"title":null}}}},
{"transform":[{"filter":"datum.group=='G4'&&datum.series=='Post-exposure'"}],"mark":{"type":"area","orient":"horizontal","interpolate":"monotone"},"encoding":{"y":{"field":"kg","type":"quantitative","scale":{"domain":[10,70],"nice":false},"axis":null},"x":{"field":"dens","type":"quantitative","stack":null,"axis":null,"scale":{"domain":[-10,14],"nice":false,"zero":false}},"color":{"field":"series","type":"nominal","scale":{"domain":["Baseline","Post-exposure"],"range":["#e66101","#5e3c99"]},"legend":{"title":null}}}},
{"transform":[{"filter":"datum.group=='G4'&&datum.series=='Post-exposure'"}],"mark":{"type":"area","orient":"horizontal","interpolate":"monotone"},"encoding":{"y":{"field":"kg","type":"quantitative","scale":{"domain":[10,70],"nice":false},"axis":null},"x":{"field":"dens","type":"quantitative","stack":null,"axis":null,"scale":{"domain":[-14,10],"reverse":true,"nice":false,"zero":false}},"color":{"field":"series","type":"nominal","scale":{"domain":["Baseline","Post-exposure"],"range":["#e66101","#5e3c99"]},"legend":{"title":null}}}},
{"transform":[{"filter":"datum.group=='G20'&&datum.series=='Baseline'"}],"mark":{"type":"area","orient":"horizontal","interpolate":"monotone"},"encoding":{"y":{"field":"kg","type":"quantitative","scale":{"domain":[10,70],"nice":false},"axis":null},"x":{"field":"dens","type":"quantitative","stack":null,"axis":null,"scale":{"domain":[-14,10],"nice":false,"zero":false}},"color":{"field":"series","type":"nominal","scale":{"domain":["Baseline","Post-exposure"],"range":["#e66101","#5e3c99"]},"legend":{"title":null}}}},
{"transform":[{"filter":"datum.group=='G20'&&datum.series=='Baseline'"}],"mark":{"type":"area","orient":"horizontal","interpolate":"monotone"},"encoding":{"y":{"field":"kg","type":"quantitative","scale":{"domain":[10,70],"nice":false},"axis":null},"x":{"field":"dens","type":"quantitative","stack":null,"axis":null,"scale":{"domain":[-10,14],"reverse":true,"nice":false,"zero":false}},"color":{"field":"series","type":"nominal","scale":{"domain":["Baseline","Post-exposure"],"range":["#e66101","#5e3c99"]},"legend":{"title":null}}}},
{"transform":[{"filter":"datum.group=='G20'&&datum.series=='Post-exposure'"}],"mark":{"type":"area","orient":"horizontal","interpolate":"monotone"},"encoding":{"y":{"field":"kg","type":"quantitative","scale":{"domain":[10,70],"nice":false},"axis":null},"x":{"field":"dens","type":"quantitative","stack":null,"axis":null,"scale":{"domain":[-16,8],"nice":false,"zero":false}},"color":{"field":"series","type":"nominal","scale":{"domain":["Baseline","Post-exposure"],"range":["#e66101","#5e3c99"]},"legend":{"title":null}}}},
{"transform":[{"filter":"datum.group=='G20'&&datum.series=='Post-exposure'"}],"mark":{"type":"area","orient":"horizontal","interpolate":"monotone"},"encoding":{"y":{"field":"kg","type":"quantitative","scale":{"domain":[10,70],"nice":false},"axis":null},"x":{"field":"dens","type":"quantitative","stack":null,"axis":null,"scale":{"domain":[-8,16],"reverse":true,"nice":false,"zero":false}},"color":{"field":"series","type":"nominal","scale":{"domain":["Baseline","Post-exposure"],"range":["#e66101","#5e3c99"]},"legend":{"title":null}}}},
{"transform":[{"filter":"datum.group=='GR'&&datum.series=='Baseline'"}],"mark":{"type":"area","orient":"horizontal","interpolate":"monotone"},"encoding":{"y":{"field":"kg","type":"quantitative","scale":{"domain":[10,70],"nice":false},"axis":null},"x":{"field":"dens","type":"quantitative","stack":null,"axis":null,"scale":{"domain":[-20,4],"nice":false,"zero":false}},"color":{"field":"series","type":"nominal","scale":{"domain":["Baseline","Post-exposure"],"range":["#e66101","#5e3c99"]},"legend":{"title":null}}}},
{"transform":[{"filter":"datum.group=='GR'&&datum.series=='Baseline'"}],"mark":{"type":"area","orient":"horizontal","interpolate":"monotone"},"encoding":{"y":{"field":"kg","type":"quantitative","scale":{"domain":[10,70],"nice":false},"axis":null},"x":{"field":"dens","type":"quantitative","stack":null,"axis":null,"scale":{"domain":[-4,20],"reverse":true,"nice":false,"zero":false}},"color":{"field":"series","type":"nominal","scale":{"domain":["Baseline","Post-exposure"],"range":["#e66101","#5e3c99"]},"legend":{"title":null}}}},
{"transform":[{"filter":"datum.group=='GR'&&datum.series=='Post-exposure'"}],"mark":{"type":"area","orient":"horizontal","interpolate":"monotone"},"encoding":{"y":{"field":"kg","type":"quantitative","scale":{"domain":[10,70],"nice":false},"axis":null},"x":{"field":"dens","type":"quantitative","stack":null,"axis":null,"scale":{"domain":[-22,2],"nice":false,"zero":false}},"color":{"field":"series","type":"nominal","scale":{"domain":["Baseline","Post-exposure"],"range":["#e66101","#5e3c99"]},"legend":{"title":null}}}},
{"transform":[{"filter":"datum.group=='GR'&&datum.series=='Post-exposure'"}],"mark":{"type":"area","orient":"horizontal","interpolate":"monotone"},"encoding":{"y":{"field":"kg","type":"quantitative","scale":{"domain":[10,70],"nice":false},"axis":null},"x":{"field":"dens","type":"quantitative","stack":null,"axis":null,"scale":{"domain":[-2,22],"reverse":true,"nice":false,"zero":false}},"color":{"field":"series","type":"nominal","scale":{"domain":["Baseline","Post-exposure"],"range":["#e66101","#5e3c99"]},"legend":{"title":null}}}},
{
"data":{"name":"box"},
"transform":[{"filter":"datum.panel=='E'"}],
"encoding":{
 "x":{"field":"group","type":"nominal","sort":null,"scale":{"domain":["G1","G4","G20","GR"],"paddingInner":0,"paddingOuter":0},"axis":null},
 "xOffset":{"field":"series","type":"nominal","sort":null,"scale":{"domain":["Baseline","Post-exposure"],"paddingInner":0,"paddingOuter":0.5}}
},
"layer":[
 {"mark":{"type":"rule","color":"#111","strokeWidth":1},"encoding":{"x":{"field":"group","type":"nominal","sort":null,"scale":{"domain":["G1","G4","G20","GR"],"paddingInner":0,"paddingOuter":0},"axis":{"orient":"bottom","title":null,"bandPosition":0.5,"labelPadding":22,"labelAngle":0}},"y":{"field":"lo","type":"quantitative","scale":{"domain":[10,70],"nice":false},"axis":null},"y2":{"field":"hi"}}},
 {"mark":{"type":"tick","color":"#333","size":12,"thickness":1},"encoding":{"y":{"field":"lo","type":"quantitative","scale":{"domain":[10,70],"nice":false},"axis":null}}},
 {"mark":{"type":"tick","color":"#333","size":12,"thickness":1},"encoding":{"x":{"field":"group","type":"nominal","sort":null,"scale":{"domain":["G1","G4","G20","GR"],"paddingInner":0,"paddingOuter":0},"axis":{"orient":"top","title":null,"labels":false,"bandPosition":0.5}},"y":{"field":"hi","type":"quantitative","scale":{"domain":[10,70],"nice":false},"axis":null}}},
 {"mark":{"type":"bar","width":7,"fill":"white","stroke":"#000","strokeWidth":1.5},"encoding":{"y":{"field":"q1","type":"quantitative","scale":{"domain":[10,70],"nice":false},"axis":null},"y2":{"field":"q3"}}},
 {"mark":{"type":"tick","color":"#000","size":8,"thickness":1.5},"encoding":{"y":{"field":"med","type":"quantitative","scale":{"domain":[10,70],"nice":false},"axis":null}}},
 {"data":{"name":"out"},"transform":[{"filter":"datum.panel=='E'"}],"mark":{"type":"point","shape":"diamond","size":28,"filled":true,"fill":"white","stroke":"#000","strokeWidth":1,"opacity":1},"encoding":{"y":{"field":"kg","type":"quantitative","scale":{"domain":[10,70],"nice":false},"axis":null}}}
]
}
]
},
{
"width":490,"height":357,
"title":{"text":"Non-Exposed hand","dx":8},
"data":{"name":"viol"},
"transform":[{"filter":"datum.panel=='N'"}],
"resolve":{"scale":{"x":"independent"}},
"layer":[
{"transform":[{"filter":"datum.group=='G1'&&datum.series=='Baseline'"}],"mark":{"type":"area","orient":"horizontal","interpolate":"monotone"},"encoding":{"y":{"field":"kg","type":"quantitative","scale":{"domain":[10,70],"nice":false},"axis":{"orient":"left","values":[10,20,30,40,50,60,70],"title":"Hand Strength (kg)","labelPadding":14,"titlePadding":9}},"x":{"field":"dens","type":"quantitative","stack":null,"axis":null,"scale":{"domain":[-2,22],"nice":false,"zero":false}},"color":{"field":"series","type":"nominal","scale":{"domain":["Baseline","Post-exposure"],"range":["#e66101","#5e3c99"]},"legend":{"title":null}}}},
{"transform":[{"filter":"datum.group=='G1'&&datum.series=='Baseline'"}],"mark":{"type":"area","orient":"horizontal","interpolate":"monotone"},"encoding":{"y":{"field":"kg","type":"quantitative","scale":{"domain":[10,70],"nice":false},"axis":{"orient":"right","values":[10,20,30,40,50,60,70],"labels":false,"title":null}},"x":{"field":"dens","type":"quantitative","stack":null,"axis":null,"scale":{"domain":[-22,2],"reverse":true,"nice":false,"zero":false}},"color":{"field":"series","type":"nominal","scale":{"domain":["Baseline","Post-exposure"],"range":["#e66101","#5e3c99"]},"legend":{"title":null}}}},
{"transform":[{"filter":"datum.group=='G1'&&datum.series=='Post-exposure'"}],"mark":{"type":"area","orient":"horizontal","interpolate":"monotone"},"encoding":{"y":{"field":"kg","type":"quantitative","scale":{"domain":[10,70],"nice":false},"axis":null},"x":{"field":"dens","type":"quantitative","stack":null,"axis":null,"scale":{"domain":[-4,20],"nice":false,"zero":false}},"color":{"field":"series","type":"nominal","scale":{"domain":["Baseline","Post-exposure"],"range":["#e66101","#5e3c99"]},"legend":{"title":null}}}},
{"transform":[{"filter":"datum.group=='G1'&&datum.series=='Post-exposure'"}],"mark":{"type":"area","orient":"horizontal","interpolate":"monotone"},"encoding":{"y":{"field":"kg","type":"quantitative","scale":{"domain":[10,70],"nice":false},"axis":null},"x":{"field":"dens","type":"quantitative","stack":null,"axis":null,"scale":{"domain":[-20,4],"reverse":true,"nice":false,"zero":false}},"color":{"field":"series","type":"nominal","scale":{"domain":["Baseline","Post-exposure"],"range":["#e66101","#5e3c99"]},"legend":{"title":null}}}},
{"transform":[{"filter":"datum.group=='G4'&&datum.series=='Baseline'"}],"mark":{"type":"area","orient":"horizontal","interpolate":"monotone"},"encoding":{"y":{"field":"kg","type":"quantitative","scale":{"domain":[10,70],"nice":false},"axis":null},"x":{"field":"dens","type":"quantitative","stack":null,"axis":null,"scale":{"domain":[-8,16],"nice":false,"zero":false}},"color":{"field":"series","type":"nominal","scale":{"domain":["Baseline","Post-exposure"],"range":["#e66101","#5e3c99"]},"legend":{"title":null}}}},
{"transform":[{"filter":"datum.group=='G4'&&datum.series=='Baseline'"}],"mark":{"type":"area","orient":"horizontal","interpolate":"monotone"},"encoding":{"y":{"field":"kg","type":"quantitative","scale":{"domain":[10,70],"nice":false},"axis":null},"x":{"field":"dens","type":"quantitative","stack":null,"axis":null,"scale":{"domain":[-16,8],"reverse":true,"nice":false,"zero":false}},"color":{"field":"series","type":"nominal","scale":{"domain":["Baseline","Post-exposure"],"range":["#e66101","#5e3c99"]},"legend":{"title":null}}}},
{"transform":[{"filter":"datum.group=='G4'&&datum.series=='Post-exposure'"}],"mark":{"type":"area","orient":"horizontal","interpolate":"monotone"},"encoding":{"y":{"field":"kg","type":"quantitative","scale":{"domain":[10,70],"nice":false},"axis":null},"x":{"field":"dens","type":"quantitative","stack":null,"axis":null,"scale":{"domain":[-10,14],"nice":false,"zero":false}},"color":{"field":"series","type":"nominal","scale":{"domain":["Baseline","Post-exposure"],"range":["#e66101","#5e3c99"]},"legend":{"title":null}}}},
{"transform":[{"filter":"datum.group=='G4'&&datum.series=='Post-exposure'"}],"mark":{"type":"area","orient":"horizontal","interpolate":"monotone"},"encoding":{"y":{"field":"kg","type":"quantitative","scale":{"domain":[10,70],"nice":false},"axis":null},"x":{"field":"dens","type":"quantitative","stack":null,"axis":null,"scale":{"domain":[-14,10],"reverse":true,"nice":false,"zero":false}},"color":{"field":"series","type":"nominal","scale":{"domain":["Baseline","Post-exposure"],"range":["#e66101","#5e3c99"]},"legend":{"title":null}}}},
{"transform":[{"filter":"datum.group=='G20'&&datum.series=='Baseline'"}],"mark":{"type":"area","orient":"horizontal","interpolate":"monotone"},"encoding":{"y":{"field":"kg","type":"quantitative","scale":{"domain":[10,70],"nice":false},"axis":null},"x":{"field":"dens","type":"quantitative","stack":null,"axis":null,"scale":{"domain":[-14,10],"nice":false,"zero":false}},"color":{"field":"series","type":"nominal","scale":{"domain":["Baseline","Post-exposure"],"range":["#e66101","#5e3c99"]},"legend":{"title":null}}}},
{"transform":[{"filter":"datum.group=='G20'&&datum.series=='Baseline'"}],"mark":{"type":"area","orient":"horizontal","interpolate":"monotone"},"encoding":{"y":{"field":"kg","type":"quantitative","scale":{"domain":[10,70],"nice":false},"axis":null},"x":{"field":"dens","type":"quantitative","stack":null,"axis":null,"scale":{"domain":[-10,14],"reverse":true,"nice":false,"zero":false}},"color":{"field":"series","type":"nominal","scale":{"domain":["Baseline","Post-exposure"],"range":["#e66101","#5e3c99"]},"legend":{"title":null}}}},
{"transform":[{"filter":"datum.group=='G20'&&datum.series=='Post-exposure'"}],"mark":{"type":"area","orient":"horizontal","interpolate":"monotone"},"encoding":{"y":{"field":"kg","type":"quantitative","scale":{"domain":[10,70],"nice":false},"axis":null},"x":{"field":"dens","type":"quantitative","stack":null,"axis":null,"scale":{"domain":[-16,8],"nice":false,"zero":false}},"color":{"field":"series","type":"nominal","scale":{"domain":["Baseline","Post-exposure"],"range":["#e66101","#5e3c99"]},"legend":{"title":null}}}},
{"transform":[{"filter":"datum.group=='G20'&&datum.series=='Post-exposure'"}],"mark":{"type":"area","orient":"horizontal","interpolate":"monotone"},"encoding":{"y":{"field":"kg","type":"quantitative","scale":{"domain":[10,70],"nice":false},"axis":null},"x":{"field":"dens","type":"quantitative","stack":null,"axis":null,"scale":{"domain":[-8,16],"reverse":true,"nice":false,"zero":false}},"color":{"field":"series","type":"nominal","scale":{"domain":["Baseline","Post-exposure"],"range":["#e66101","#5e3c99"]},"legend":{"title":null}}}},
{"transform":[{"filter":"datum.group=='GR'&&datum.series=='Baseline'"}],"mark":{"type":"area","orient":"horizontal","interpolate":"monotone"},"encoding":{"y":{"field":"kg","type":"quantitative","scale":{"domain":[10,70],"nice":false},"axis":null},"x":{"field":"dens","type":"quantitative","stack":null,"axis":null,"scale":{"domain":[-20,4],"nice":false,"zero":false}},"color":{"field":"series","type":"nominal","scale":{"domain":["Baseline","Post-exposure"],"range":["#e66101","#5e3c99"]},"legend":{"title":null}}}},
{"transform":[{"filter":"datum.group=='GR'&&datum.series=='Baseline'"}],"mark":{"type":"area","orient":"horizontal","interpolate":"monotone"},"encoding":{"y":{"field":"kg","type":"quantitative","scale":{"domain":[10,70],"nice":false},"axis":null},"x":{"field":"dens","type":"quantitative","stack":null,"axis":null,"scale":{"domain":[-4,20],"reverse":true,"nice":false,"zero":false}},"color":{"field":"series","type":"nominal","scale":{"domain":["Baseline","Post-exposure"],"range":["#e66101","#5e3c99"]},"legend":{"title":null}}}},
{"transform":[{"filter":"datum.group=='GR'&&datum.series=='Post-exposure'"}],"mark":{"type":"area","orient":"horizontal","interpolate":"monotone"},"encoding":{"y":{"field":"kg","type":"quantitative","scale":{"domain":[10,70],"nice":false},"axis":null},"x":{"field":"dens","type":"quantitative","stack":null,"axis":null,"scale":{"domain":[-22,2],"nice":false,"zero":false}},"color":{"field":"series","type":"nominal","scale":{"domain":["Baseline","Post-exposure"],"range":["#e66101","#5e3c99"]},"legend":{"title":null}}}},
{"transform":[{"filter":"datum.group=='GR'&&datum.series=='Post-exposure'"}],"mark":{"type":"area","orient":"horizontal","interpolate":"monotone"},"encoding":{"y":{"field":"kg","type":"quantitative","scale":{"domain":[10,70],"nice":false},"axis":null},"x":{"field":"dens","type":"quantitative","stack":null,"axis":null,"scale":{"domain":[-2,22],"reverse":true,"nice":false,"zero":false}},"color":{"field":"series","type":"nominal","scale":{"domain":["Baseline","Post-exposure"],"range":["#e66101","#5e3c99"]},"legend":{"title":null}}}},
{
"data":{"name":"box"},
"transform":[{"filter":"datum.panel=='N'"}],
"encoding":{
 "x":{"field":"group","type":"nominal","sort":null,"scale":{"domain":["G1","G4","G20","GR"],"paddingInner":0,"paddingOuter":0},"axis":null},
 "xOffset":{"field":"series","type":"nominal","sort":null,"scale":{"domain":["Baseline","Post-exposure"],"paddingInner":0,"paddingOuter":0.5}}
},
"layer":[
 {"mark":{"type":"rule","color":"#111","strokeWidth":1},"encoding":{"x":{"field":"group","type":"nominal","sort":null,"scale":{"domain":["G1","G4","G20","GR"],"paddingInner":0,"paddingOuter":0},"axis":{"orient":"bottom","title":null,"bandPosition":0.5,"labelPadding":22,"labelAngle":0}},"y":{"field":"lo","type":"quantitative","scale":{"domain":[10,70],"nice":false},"axis":null},"y2":{"field":"hi"}}},
 {"mark":{"type":"tick","color":"#333","size":12,"thickness":1},"encoding":{"y":{"field":"lo","type":"quantitative","scale":{"domain":[10,70],"nice":false},"axis":null}}},
 {"mark":{"type":"tick","color":"#333","size":12,"thickness":1},"encoding":{"x":{"field":"group","type":"nominal","sort":null,"scale":{"domain":["G1","G4","G20","GR"],"paddingInner":0,"paddingOuter":0},"axis":{"orient":"top","title":null,"labels":false,"bandPosition":0.5}},"y":{"field":"hi","type":"quantitative","scale":{"domain":[10,70],"nice":false},"axis":null}}},
 {"mark":{"type":"bar","width":7,"fill":"white","stroke":"#000","strokeWidth":1.5},"encoding":{"y":{"field":"q1","type":"quantitative","scale":{"domain":[10,70],"nice":false},"axis":null},"y2":{"field":"q3"}}},
 {"mark":{"type":"tick","color":"#000","size":8,"thickness":1.5},"encoding":{"y":{"field":"med","type":"quantitative","scale":{"domain":[10,70],"nice":false},"axis":null}}},
 {"data":{"name":"out"},"transform":[{"filter":"datum.panel=='N'"}],"mark":{"type":"point","shape":"diamond","size":28,"filled":true,"fill":"white","stroke":"#000","strokeWidth":1,"opacity":1},"encoding":{"y":{"field":"kg","type":"quantitative","scale":{"domain":[10,70],"nice":false},"axis":null}}}
]
}
]
}
]
}
